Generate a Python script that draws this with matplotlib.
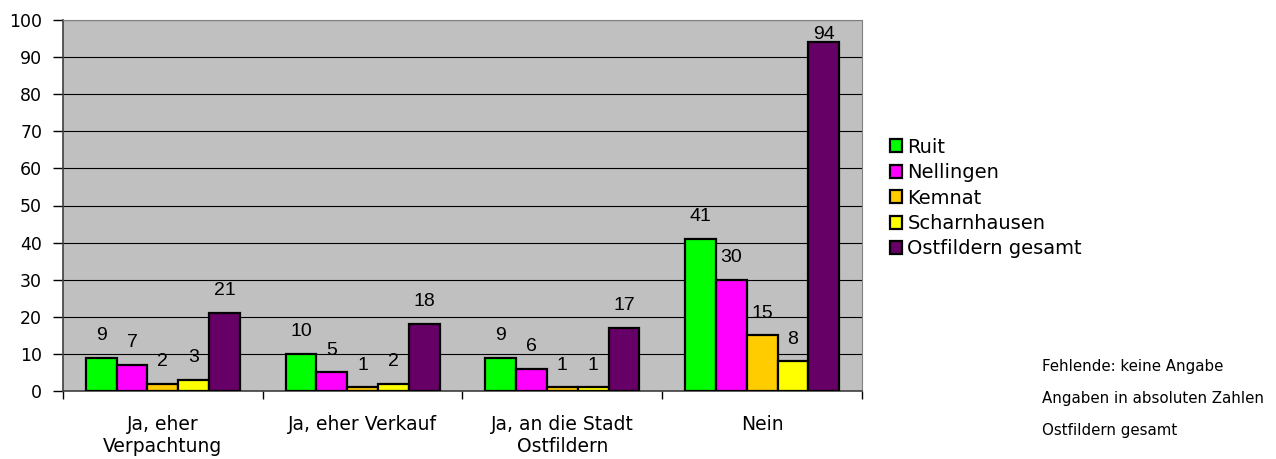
import numpy as np
import matplotlib
matplotlib.use('Agg')
import matplotlib.pyplot as plt

# Daten aus der Grafik
categories = ['Ja, eher\nVerpachtung', 'Ja, eher Verkauf', 'Ja, an die Stadt\nOstfildern', 'Nein']
series_names = ['Ruit', 'Nellingen', 'Kemnat', 'Scharnhausen', 'Ostfildern gesamt']
ruit = [9, 10, 9, 41]
nellingen = [7, 5, 6, 30]
kemnat = [2, 1, 1, 15]
scharnhausen = [3, 2, 1, 8]
gesamt = [21, 18, 17, 94]
colors = ['#00FF00', '#FF00FF', '#FFCC00', '#FFFF00', '#660066']
notes = ['Fehlende: keine Angabe', 'Angaben in absoluten Zahlen', 'Ostfildern gesamt']

plt.rcParams['font.family'] = 'DejaVu Sans'

fig = plt.figure(figsize=(12.76, 4.59), dpi=100)
ax = fig.add_axes([63/1276, 1-391/459, (862-63)/1276, (391-20)/459])
ax.set_facecolor('#C0C0C0')

x = np.arange(len(categories))
w = 0.154
all_series = [ruit, nellingen, kemnat, scharnhausen, gesamt]
for i, vals in enumerate(all_series):
    pos = x + (i - 2) * w
    ax.bar(pos, vals, width=w, color=colors[i], edgecolor='black', linewidth=1.6,
           label=series_names[i], zorder=3)
    for p, v in zip(pos, vals):
        # Beschriftung über dem Balken, oben im Diagramm gehalten
        ax.text(p, min(v + 6.0, 96.2), str(v), ha='center', va='center',
                fontsize=14, family='Liberation Sans')

ax.set_xlim(-0.5, len(categories) - 0.5)
ax.set_ylim(0, 100)
ax.set_yticks(range(0, 101, 10))
ax.yaxis.grid(True, color='black', linewidth=0.8, zorder=1)
ax.tick_params(axis='y', labelsize=12.5, length=7, width=1, direction='out', pad=8)

# Kategorienachse: Striche an den Gruppengrenzen, Beschriftung mittig
ax.set_xticks(np.arange(-0.5, len(categories), 1.0))
ax.set_xticklabels([])
ax.set_xticks(x, minor=True)
ax.set_xticklabels(categories, minor=True, fontsize=13.5)
ax.tick_params(axis='x', which='major', length=6, width=1)
ax.tick_params(axis='x', which='minor', length=0, pad=17)

for s in ['top', 'right']:
    ax.spines[s].set_color('#808080')
for s in ['left', 'bottom']:
    ax.spines[s].set_color('#404040')
    ax.spines[s].set_linewidth(1.2)

leg = fig.legend(loc='upper left', bbox_to_anchor=(882/1276, 1-130/459), frameon=False,
                 fontsize=14, handlelength=0.65, handleheight=0.65, handletextpad=0.25,
                 labelspacing=0.33, borderaxespad=0)

for k, t in enumerate(notes):
    fig.text(1042/1276, 1-(366+k*32.5)/459, t, fontsize=10.8, va='center', ha='left')

fig.savefig('out.png', dpi=100)
